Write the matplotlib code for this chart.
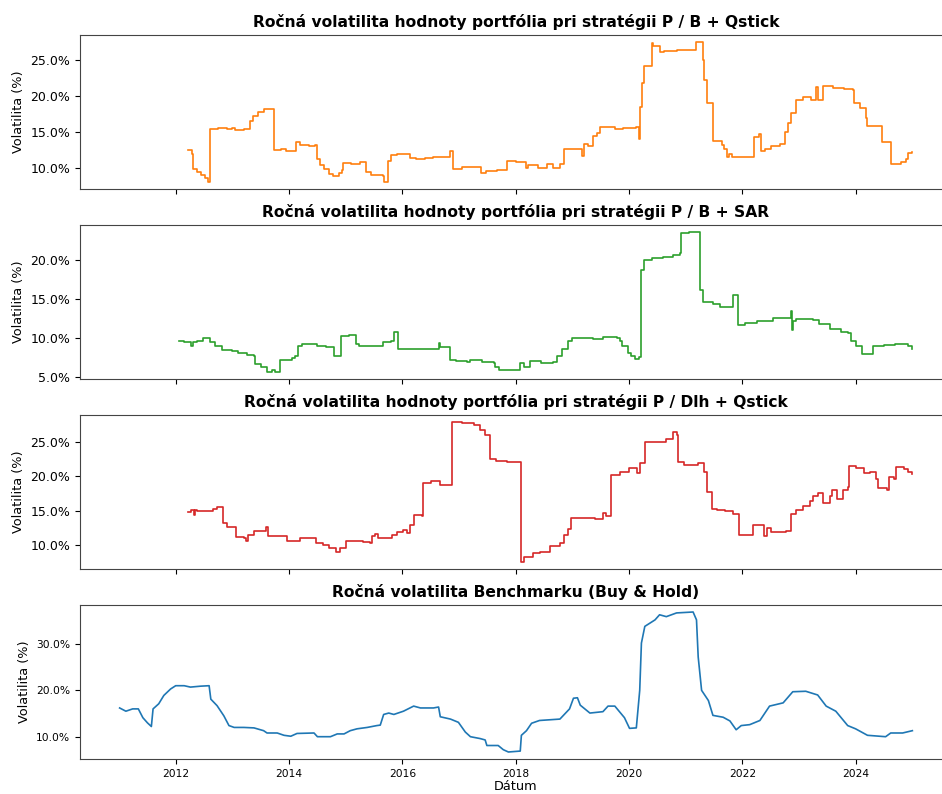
import matplotlib
matplotlib.use("Agg")
import matplotlib.pyplot as plt
import matplotlib.dates as mdates
from matplotlib.ticker import PercentFormatter, MultipleLocator
import pandas as pd

# ročná volatilita (%), dátum ako desatinný rok
qstick_dates = [2012.22, 2012.28, 2012.31, 2012.38, 2012.45, 2012.52, 2012.57, 2012.61, 2012.75, 2012.90,
                2013.00, 2013.05, 2013.20, 2013.31, 2013.36, 2013.45, 2013.56, 2013.73, 2013.85, 2013.95,
                2014.12, 2014.20, 2014.35, 2014.45, 2014.49, 2014.55, 2014.62, 2014.70, 2014.78, 2014.88,
                2014.93, 2014.96, 2015.10, 2015.25, 2015.35, 2015.45, 2015.65, 2015.68, 2015.74, 2015.80,
                2015.90, 2016.14, 2016.25, 2016.40, 2016.55, 2016.75, 2016.85, 2016.90, 2017.05, 2017.25,
                2017.39, 2017.48, 2017.67, 2017.84, 2018.00, 2018.19, 2018.22, 2018.40, 2018.55, 2018.65,
                2018.78, 2018.86, 2019.10, 2019.17, 2019.21, 2019.27, 2019.36, 2019.44, 2019.49, 2019.75,
                2019.90, 2020.13, 2020.17, 2020.20, 2020.23, 2020.27, 2020.41, 2020.43, 2020.54, 2020.62,
                2020.85, 2021.19, 2021.30, 2021.33, 2021.37, 2021.48, 2021.64, 2021.68, 2021.72, 2021.77,
                2021.82, 2022.20, 2022.30, 2022.33, 2022.40, 2022.50, 2022.66, 2022.75, 2022.80, 2022.86,
                2022.95, 2023.07, 2023.22, 2023.30, 2023.34, 2023.42, 2023.60, 2023.80, 2023.95, 2023.98,
                2024.07, 2024.18, 2024.21, 2024.47, 2024.63, 2024.80, 2024.89, 2024.93, 2025.00]
qstick_vol = [12.5, 11.9, 9.8, 9.5, 9.0, 8.6, 8.05, 15.4, 15.6, 15.4,
              15.6, 15.3, 15.4, 16.6, 17.3, 17.8, 18.15, 12.5, 12.6, 12.4,
              13.6, 13.2, 13.0, 13.2, 11.3, 10.4, 9.8, 9.2, 8.95, 9.3,
              9.7, 10.7, 10.6, 10.8, 9.45, 9.0, 8.9, 8.1, 11.0, 11.8,
              12.0, 11.4, 11.2, 11.4, 11.6, 11.6, 12.4, 9.9, 10.1, 10.2,
              9.3, 9.6, 9.7, 11.0, 10.9, 10.0, 10.4, 10.0, 10.5, 10.0,
              10.6, 12.7, 12.6, 11.7, 13.3, 13.0, 14.4, 14.9, 15.7, 15.4,
              15.6, 15.7, 14.0, 18.5, 21.8, 24.2, 27.4, 27.0, 26.1, 26.3,
              26.5, 27.55, 25.0, 22.2, 19.1, 13.8, 13.2, 12.7, 11.5, 11.9,
              11.6, 14.3, 14.8, 12.4, 12.7, 13.1, 13.4, 15.0, 16.2, 17.6,
              19.5, 19.9, 19.5, 21.3, 19.5, 21.4, 21.2, 21.0, 20.8, 19.0,
              18.3, 16.9, 15.9, 13.6, 10.6, 10.8, 11.2, 12.1, 12.2]

sar_dates = [2012.06, 2012.15, 2012.27, 2012.30, 2012.38, 2012.48, 2012.60, 2012.70, 2012.82, 2013.00,
             2013.10, 2013.25, 2013.38, 2013.40, 2013.50, 2013.61, 2013.70, 2013.75, 2013.84, 2014.05,
             2014.10, 2014.15, 2014.22, 2014.50, 2014.65, 2014.79, 2014.91, 2015.05, 2015.19, 2015.23,
             2015.60, 2015.66, 2015.80, 2015.85, 2015.93, 2016.20, 2016.40, 2016.64, 2016.67, 2016.84,
             2016.95, 2017.14, 2017.20, 2017.40, 2017.61, 2017.64, 2017.70, 2018.08, 2018.15, 2018.25,
             2018.45, 2018.66, 2018.72, 2018.82, 2018.92, 2019.00, 2019.37, 2019.55, 2019.78, 2019.84,
             2019.87, 2019.98, 2020.03, 2020.10, 2020.18, 2020.21, 2020.26, 2020.40, 2020.60, 2020.78,
             2020.90, 2020.92, 2021.05, 2021.26, 2021.30, 2021.48, 2021.60, 2021.83, 2021.92, 2022.05,
             2022.25, 2022.54, 2022.70, 2022.86, 2022.88, 2022.90, 2022.95, 2023.24, 2023.35, 2023.54,
             2023.75, 2023.86, 2023.92, 2024.00, 2024.12, 2024.30, 2024.50, 2024.70, 2024.92, 2025.00]
sar_vol = [9.6, 9.45, 9.0, 9.5, 9.6, 10.0, 9.5, 9.0, 8.4, 8.25,
           8.0, 7.8, 7.6, 6.6, 6.3, 5.6, 5.8, 5.6, 7.2, 7.4,
           7.7, 9.0, 9.2, 9.0, 8.8, 7.7, 10.2, 10.3, 9.2, 8.9,
           8.9, 9.4, 9.6, 10.7, 8.5, 8.6, 8.5, 9.3, 8.8, 7.2,
           7.0, 6.9, 7.2, 6.9, 6.8, 6.2, 5.8, 6.7, 6.3, 7.0,
           6.8, 6.9, 7.6, 8.6, 9.6, 10.0, 9.9, 10.1, 10.0, 9.6,
           9.0, 8.1, 7.6, 7.3, 7.5, 18.7, 20.0, 20.3, 20.4, 20.7,
           20.9, 23.5, 23.6, 16.2, 14.6, 14.3, 14.0, 15.5, 11.6, 11.9,
           12.2, 12.5, 12.6, 13.4, 11.0, 12.2, 12.4, 12.3, 11.8, 11.1,
           10.8, 10.6, 9.6, 9.0, 7.9, 9.0, 9.1, 9.2, 9.0, 8.5]

dlh_dates = [2012.22, 2012.27, 2012.32, 2012.34, 2012.38, 2012.65, 2012.73, 2012.83, 2012.90, 2013.07,
             2013.20, 2013.24, 2013.28, 2013.38, 2013.59, 2013.62, 2013.97, 2014.20, 2014.47, 2014.60,
             2014.70, 2014.82, 2014.90, 2015.00, 2015.30, 2015.43, 2015.46, 2015.52, 2015.57, 2015.81,
             2015.90, 2016.02, 2016.08, 2016.13, 2016.20, 2016.34, 2016.37, 2016.50, 2016.67, 2016.87,
             2017.05, 2017.26, 2017.37, 2017.45, 2017.55, 2017.65, 2017.85, 2018.09, 2018.15, 2018.30,
             2018.43, 2018.60, 2018.78, 2018.85, 2018.92, 2018.98, 2019.20, 2019.40, 2019.54, 2019.60,
             2019.69, 2019.85, 2020.00, 2020.15, 2020.20, 2020.28, 2020.66, 2020.78, 2020.84, 2020.87,
             2020.97, 2021.21, 2021.32, 2021.37, 2021.46, 2021.55, 2021.70, 2021.83, 2021.94, 2022.19,
             2022.39, 2022.44, 2022.50, 2022.77, 2022.86, 2022.95, 2023.07, 2023.20, 2023.25, 2023.33,
             2023.42, 2023.54, 2023.59, 2023.68, 2023.77, 2023.86, 2023.89, 2024.00, 2024.15, 2024.25,
             2024.36, 2024.39, 2024.56, 2024.59, 2024.68, 2024.71, 2024.85, 2024.93, 2025.00]
dlh_vol = [14.8, 15.1, 14.4, 15.2, 15.0, 15.3, 15.6, 13.25, 12.7, 11.2,
           11.1, 10.7, 11.5, 12.1, 12.7, 11.3, 10.7, 11.1, 10.3, 10.1,
           9.7, 9.0, 9.7, 10.7, 10.5, 10.35, 11.3, 11.6, 11.1, 11.5,
           12.0, 12.2, 11.8, 12.9, 14.4, 14.2, 19.1, 19.3, 18.7, 27.9,
           27.8, 27.5, 26.7, 26.0, 22.6, 22.3, 22.1, 7.6, 8.3, 8.9,
           9.1, 9.9, 10.4, 11.5, 12.4, 14.0, 14.0, 13.9, 14.7, 14.2,
           20.2, 20.7, 21.2, 20.5, 21.9, 25.0, 25.4, 26.5, 26.0, 22.1,
           21.6, 22.0, 20.7, 17.8, 15.3, 15.1, 15.0, 14.6, 11.5, 13.0,
           11.3, 12.6, 12.0, 12.1, 14.6, 15.2, 15.7, 16.5, 17.1, 17.6,
           16.2, 17.1, 18.0, 16.7, 18.1, 18.5, 21.55, 21.2, 20.5, 20.7,
           19.6, 18.4, 18.0, 19.9, 19.7, 21.4, 21.1, 20.7, 20.3]

bench_dates = [2011.01, 2011.12, 2011.24, 2011.34, 2011.42, 2011.50, 2011.57, 2011.60, 2011.70, 2011.79,
               2011.91, 2012.00, 2012.15, 2012.26, 2012.44, 2012.59, 2012.62, 2012.73, 2012.85, 2012.94,
               2013.03, 2013.20, 2013.38, 2013.55, 2013.61, 2013.79, 2013.91, 2014.03, 2014.14, 2014.44,
               2014.50, 2014.73, 2014.85, 2014.97, 2015.08, 2015.20, 2015.38, 2015.55, 2015.61, 2015.67,
               2015.76, 2015.85, 2016.02, 2016.20, 2016.32, 2016.55, 2016.64, 2016.67, 2016.85, 2016.99,
               2017.11, 2017.20, 2017.37, 2017.46, 2017.49, 2017.69, 2017.78, 2017.87, 2018.08, 2018.10,
               2018.19, 2018.28, 2018.42, 2018.78, 2018.95, 2019.02, 2019.09, 2019.14, 2019.31, 2019.54,
               2019.63, 2019.75, 2019.92, 2020.01, 2020.13, 2020.19, 2020.22, 2020.28, 2020.37, 2020.46,
               2020.54, 2020.66, 2020.84, 2021.13, 2021.19, 2021.22, 2021.28, 2021.40, 2021.48, 2021.66,
               2021.78, 2021.89, 2021.98, 2022.13, 2022.31, 2022.48, 2022.72, 2022.89, 2023.12, 2023.33,
               2023.48, 2023.65, 2023.86, 2024.00, 2024.21, 2024.53, 2024.62, 2024.83, 2025.00]
bench_vol = [16.2, 15.5, 16.0, 16.0, 14.1, 13.0, 12.2, 16.0, 17.1, 18.9,
             20.3, 21.0, 21.0, 20.7, 20.9, 21.0, 18.1, 16.7, 14.5, 12.4,
             12.0, 12.0, 11.9, 11.3, 10.8, 10.8, 10.3, 10.1, 10.7, 10.8,
             10.0, 10.0, 10.6, 10.6, 11.3, 11.7, 12.0, 12.4, 12.5, 14.8,
             15.1, 14.8, 15.5, 16.6, 16.2, 16.2, 16.4, 14.3, 13.8, 13.1,
             11.0, 10.0, 9.6, 9.3, 8.1, 8.1, 7.2, 6.7, 6.9, 10.3,
             11.3, 12.9, 13.5, 13.8, 16.0, 18.3, 18.4, 16.8, 15.1, 15.4,
             16.6, 16.6, 14.1, 11.8, 11.9, 20.0, 30.2, 33.8, 34.5, 35.2,
             36.3, 35.9, 36.7, 36.9, 35.2, 27.2, 20.0, 17.8, 14.6, 14.2,
             13.4, 11.5, 12.4, 12.6, 13.5, 16.6, 17.3, 19.7, 19.8, 19.0,
             16.6, 15.5, 12.4, 11.7, 10.3, 10.0, 10.8, 10.8, 11.3]

titles = ["Ročná volatilita hodnoty portfólia pri stratégii P / B + Qstick",
          "Ročná volatilita hodnoty portfólia pri stratégii P / B + SAR",
          "Ročná volatilita hodnoty portfólia pri stratégii P / Dlh + Qstick",
          "Ročná volatilita Benchmarku (Buy & Hold)"]


def to_dt(years):
    out = []
    for y in years:
        yr = int(y)
        out.append(pd.Timestamp(yr, 1, 1) + pd.Timedelta(days=(y - yr) * 365.25))
    return out


series = [(qstick_dates, qstick_vol, "tab:orange", "steps-post"),
          (sar_dates, sar_vol, "tab:green", "steps-post"),
          (dlh_dates, dlh_vol, "tab:red", "steps-post"),
          (bench_dates, bench_vol, "tab:blue", "default")]

fig, axes = plt.subplots(4, 1, figsize=(9.42, 7.94), dpi=100, sharex=True)

W, H = 942, 794
tops = [35, 225, 415, 605]
for ax, top in zip(axes, tops):
    ax.set_position([80 / W, 1 - (top + 154) / H, (952 - 80) / W, 154 / H])

for i, (ax, (d, v, c, ds)) in enumerate(zip(axes, series)):
    ax.plot(to_dt(d), v, color=c, linewidth=1.2, drawstyle=ds)
    ax.set_title(titles[i], fontsize=11.2, fontweight="bold")
    ax.set_ylabel("Volatilita (%)", fontsize=9.3)
    ax.yaxis.set_major_formatter(PercentFormatter(100, decimals=1))
    ax.yaxis.set_major_locator(MultipleLocator(10 if i == 3 else 5))
    ax.tick_params(labelsize=9 if i < 3 else 7.7)
    for s in ax.spines.values():
        s.set_color("#444444")

axes[3].xaxis.set_major_locator(mdates.YearLocator(2))
axes[3].xaxis.set_major_formatter(mdates.DateFormatter("%Y"))
axes[3].set_xlabel("Dátum", fontsize=9.3, labelpad=1)

fig.savefig("out.png", dpi=100)
